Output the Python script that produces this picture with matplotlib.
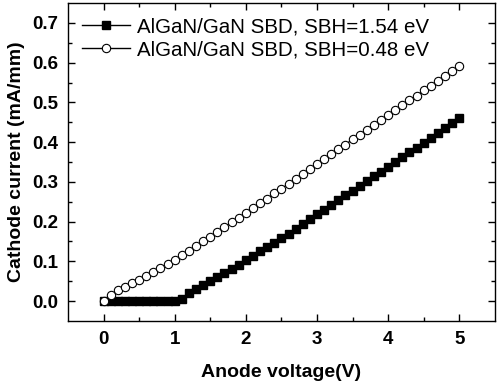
import matplotlib.pyplot as plt
import numpy as np

plt.rcParams['font.family'] = ['Liberation Sans', 'DejaVu Sans']

# Anode voltage (V)
voltage = np.round(np.arange(0, 5.01, 0.1), 1)

# SBH = 1.54 eV (filled squares), mA/mm
current_high = [0.000, 0.000, 0.000, 0.000, 0.000, 0.000, 0.000, 0.000, 0.000, 0.000,
                0.000, 0.006, 0.020, 0.030, 0.040, 0.050, 0.060, 0.070, 0.081, 0.092,
                0.103, 0.114, 0.125, 0.136, 0.147, 0.159, 0.170, 0.182, 0.194, 0.206,
                0.218, 0.230, 0.242, 0.254, 0.266, 0.278, 0.290, 0.302, 0.314, 0.326,
                0.338, 0.350, 0.362, 0.374, 0.386, 0.398, 0.410, 0.422, 0.435, 0.447,
                0.460]

# SBH = 0.48 eV (open circles), mA/mm
current_low = [0.000, 0.016, 0.027, 0.036, 0.045, 0.054, 0.063, 0.073, 0.083, 0.094,
               0.104, 0.115, 0.127, 0.139, 0.150, 0.162, 0.174, 0.186, 0.198, 0.210,
               0.222, 0.234, 0.246, 0.258, 0.271, 0.283, 0.295, 0.308, 0.320, 0.333,
               0.345, 0.357, 0.370, 0.382, 0.394, 0.407, 0.419, 0.431, 0.444, 0.456,
               0.468, 0.480, 0.493, 0.505, 0.517, 0.530, 0.542, 0.555, 0.567, 0.580,
               0.592]

labels = ['AlGaN/GaN SBD, SBH=1.54 eV', 'AlGaN/GaN SBD, SBH=0.48 eV']

fig = plt.figure(figsize=(5.01, 3.83), dpi=100)
ax = fig.add_axes([0.1357, 0.162, 0.852, 0.830])

ax.plot(voltage, current_high, '-s', color='black', lw=1, ms=6,
        mfc='black', mec='black', label=labels[0])
ax.plot(voltage, current_low, '-o', color='black', lw=1, ms=6,
        mfc='white', mec='black', mew=0.8, label=labels[1])

ax.set_xlim(-0.5, 5.5)
ax.set_ylim(-0.05, 0.75)
ax.set_xticks(np.arange(0, 6, 1))
ax.set_xticks(np.arange(0.5, 5.5, 1), minor=True)
ax.set_yticks(np.arange(0, 0.71, 0.1))
ax.set_yticks(np.arange(0.05, 0.75, 0.1), minor=True)
ax.yaxis.set_major_formatter(plt.FormatStrFormatter('%.1f'))

ax.tick_params(which='both', direction='in', top=True, right=True, width=1)
ax.tick_params(which='major', length=5, labelsize=13.5, pad=7)
ax.tick_params(which='minor', length=3)
for lbl in ax.get_xticklabels() + ax.get_yticklabels():
    lbl.set_fontweight('bold')
for sp in ax.spines.values():
    sp.set_linewidth(1)

ax.set_xlabel('Anode voltage(V)', fontsize=14, fontweight='bold', labelpad=12)
ax.set_ylabel('Cathode current (mA/mm)', fontsize=14, fontweight='bold', labelpad=5)

ax.legend(loc='upper left', frameon=False, fontsize=14.8, handlelength=2.3,
          handletextpad=0.35, borderaxespad=0.3, labelspacing=0.2,
          bbox_to_anchor=(0.0, 1.0))

fig.savefig('out.png', dpi=100)
